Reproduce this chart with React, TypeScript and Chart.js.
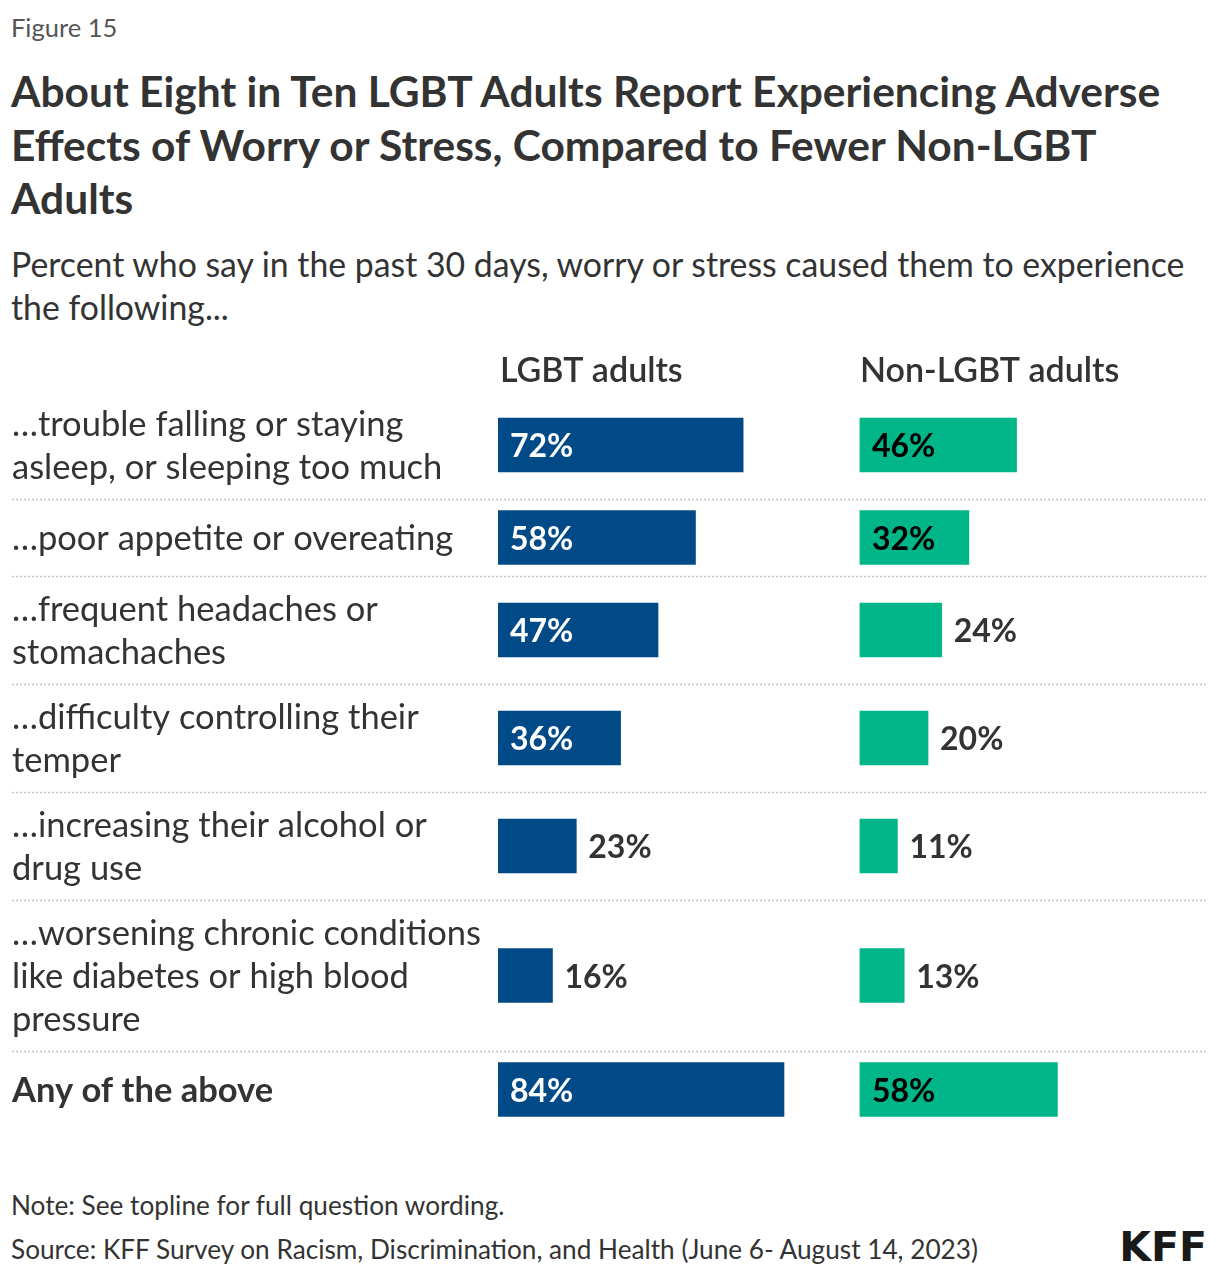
import React, { useEffect, useRef } from "react";
import { Chart, registerables } from "chart.js";

Chart.register(...registerables);

// ---------- data ----------
const CATEGORIES: string[][] = [
  ["\u2026trouble falling or staying", "asleep, or sleeping too much"],
  ["\u2026poor appetite or overeating"],
  ["\u2026frequent headaches or", "stomachaches"],
  ["\u2026difficulty controlling their", "temper"],
  ["\u2026increasing their alcohol or", "drug use"],
  ["\u2026worsening chronic conditions", "like diabetes or high blood", "pressure"],
  ["Any of the above"],
];
const BOLD_ROWS = [false, false, false, false, false, false, true];
const LGBT_VALUES = [72, 58, 47, 36, 23, 16, 84];
const NON_LGBT_VALUES = [46, 32, 24, 20, 11, 13, 58];
const SERIES_NAMES = ["LGBT adults", "Non-LGBT adults"];

// ---------- layout / style ----------
const FONT = "Lato";
const BLUE = "#004a87";
const GREEN = "#00b587";
const TEXT = "#333333";
const LINE_H = 43;
const ROW_PAD = 22;
const MIN_ROW = 77;
const BAR_THICK = 54;
const NON_OFFSET = 106.3; // column start of second panel, in value units
const X_MAX = 210;
const PAD_LEFT = 498;
const PAD_TOP = 51;
const PAD_BOTTOM = 12;
const PAD_RIGHT = 7;

const rowHeights = CATEGORIES.map((l) => Math.max(MIN_ROW, l.length * LINE_H + ROW_PAD));
const rowStarts: number[] = [];
rowHeights.reduce((acc, h) => {
  rowStarts.push(acc);
  return acc + h;
}, 0);
const TOTAL = rowHeights.reduce((a, b) => a + b, 0);
const centers = rowStarts.map((s, i) => s + rowHeights[i] / 2);
const CANVAS_H = PAD_TOP + TOTAL + PAD_BOTTOM;

const overlayPlugin = {
  id: "overlay",
  beforeDatasetsDraw(chart: any) {
    const { ctx } = chart;
    const y = chart.scales.y;
    ctx.save();
    ctx.strokeStyle = "#c4c4c4";
    ctx.lineWidth = 1.5;
    ctx.setLineDash([2, 2]);
    for (let i = 1; i < rowStarts.length; i++) {
      const py = Math.round(y.getPixelForValue(rowStarts[i])) + 0.5;
      ctx.beginPath();
      ctx.moveTo(12, py);
      ctx.lineTo(1208, py);
      ctx.stroke();
    }
    ctx.restore();
  },
  afterDatasetsDraw(chart: any) {
    const { ctx } = chart;
    const x = chart.scales.x;
    const y = chart.scales.y;
    ctx.save();
    ctx.textBaseline = "middle";
    ctx.textAlign = "left";
    // headers
    ctx.fillStyle = TEXT;
    ctx.font = `600 34px ${FONT}`;
    ctx.fillText(SERIES_NAMES[0], x.getPixelForValue(0) + 2, chart.chartArea.top - 20);
    ctx.fillText(SERIES_NAMES[1], x.getPixelForValue(NON_OFFSET), chart.chartArea.top - 20);
    // row labels
    CATEGORIES.forEach((lines, i) => {
      const cy = y.getPixelForValue(centers[i]);
      ctx.font = `${BOLD_ROWS[i] ? 700 : 400} 34.5px ${FONT}`;
      ctx.fillStyle = TEXT;
      lines.forEach((ln, j) => {
        ctx.fillText(ln, 12, cy + 1 + (j - (lines.length - 1) / 2) * LINE_H);
      });
    });
    // value labels
    ctx.font = `700 32px ${FONT}`;
    [LGBT_VALUES, NON_LGBT_VALUES].forEach((vals, di) => {
      const meta = chart.getDatasetMeta(di);
      meta.data.forEach((bar: any, i: number) => {
        const label = `${vals[i]}%`;
        const tw = ctx.measureText(label).width;
        const left = Math.min(bar.x, bar.base);
        const right = Math.max(bar.x, bar.base);
        const bw = right - left;
        if (tw + 30 <= bw) {
          ctx.fillStyle = di === 0 ? "#ffffff" : "#000000";
          ctx.fillText(label, left + 12, bar.y + 2);
        } else {
          ctx.fillStyle = TEXT;
          ctx.fillText(label, right + 12, bar.y + 2);
        }
      });
    });
    ctx.restore();
  },
};

function BarsChart() {
  const ref = useRef<HTMLCanvasElement | null>(null);
  useEffect(() => {
    if (!ref.current) return;
    const chart = new Chart(ref.current, {
      type: "bar",
      data: {
        datasets: [
          {
            label: SERIES_NAMES[0],
            data: LGBT_VALUES.map((v, i) => ({ x: [0, v], y: centers[i] })) as any,
            backgroundColor: BLUE,
          },
          {
            label: SERIES_NAMES[1],
            data: NON_LGBT_VALUES.map((v, i) => ({ x: [NON_OFFSET, NON_OFFSET + v], y: centers[i] })) as any,
            backgroundColor: GREEN,
          },
        ],
      },
      options: {
        indexAxis: "y",
        animation: false,
        responsive: false,
        maintainAspectRatio: false,
        grouped: false,
        barPercentage: 1,
        categoryPercentage: 1,
        maxBarThickness: BAR_THICK,
        layout: { padding: { left: PAD_LEFT, top: PAD_TOP, right: PAD_RIGHT, bottom: PAD_BOTTOM } },
        scales: {
          x: { type: "linear", min: 0, max: X_MAX, display: false, offset: false },
          y: {
            type: "linear",
            min: 0,
            max: TOTAL,
            reverse: true,
            display: false,
            offset: false,
            grid: { offset: false },
            ticks: { maxTicksLimit: 2 },
          },
        },
        plugins: { legend: { display: false }, tooltip: { enabled: false } },
      } as any,
      plugins: [overlayPlugin],
    });
    return () => chart.destroy();
  }, []);
  return (
    <canvas
      ref={ref}
      width={1220}
      height={CANVAS_H}
      style={{ position: "absolute", left: 0, top: 340, width: 1220, height: CANVAS_H }}
    />
  );
}

export default function App() {
  const base: React.CSSProperties = {
    position: "absolute",
    left: 11,
    whiteSpace: "nowrap",
    fontFamily: FONT,
    color: TEXT,
  };
  return (
    <div style={{ position: "absolute", left: 0, top: 0, width: 1220, height: 1276, background: "#fff", overflow: "hidden" }}>
      <div style={{ ...base, top: 12, fontSize: 25.5, lineHeight: "30px", color: "#555" }}>Figure 15</div>
      <div style={{ ...base, top: 64, fontSize: 42.5, fontWeight: 700, lineHeight: "53.5px" }}>
        <div>About Eight in Ten LGBT Adults Report Experiencing Adverse</div>
        <div>Effects of Worry or Stress, Compared to Fewer Non-LGBT</div>
        <div>Adults</div>
      </div>
      <div style={{ ...base, top: 243, fontSize: 33.8, lineHeight: "43px" }}>
        <div>Percent who say in the past 30 days, worry or stress caused them to experience</div>
        <div>the following...</div>
      </div>
      <BarsChart />
      <div style={{ ...base, top: 1183, fontSize: 26.2, lineHeight: "44px" }}>
        <div>Note: See topline for full question wording.</div>
        <div>Source: KFF Survey on Racism, Discrimination, and Health (June 6- August 14, 2023)</div>
      </div>
      <div
        style={{
          position: "absolute",
          right: 13,
          top: 1222,
          fontFamily: "DejaVu Sans",
          fontSize: 41,
          fontWeight: 700,
          lineHeight: "50px",
          color: "#1a1a1a",
          letterSpacing: 0,
        }}
      >
        KFF
      </div>
    </div>
  );
}
